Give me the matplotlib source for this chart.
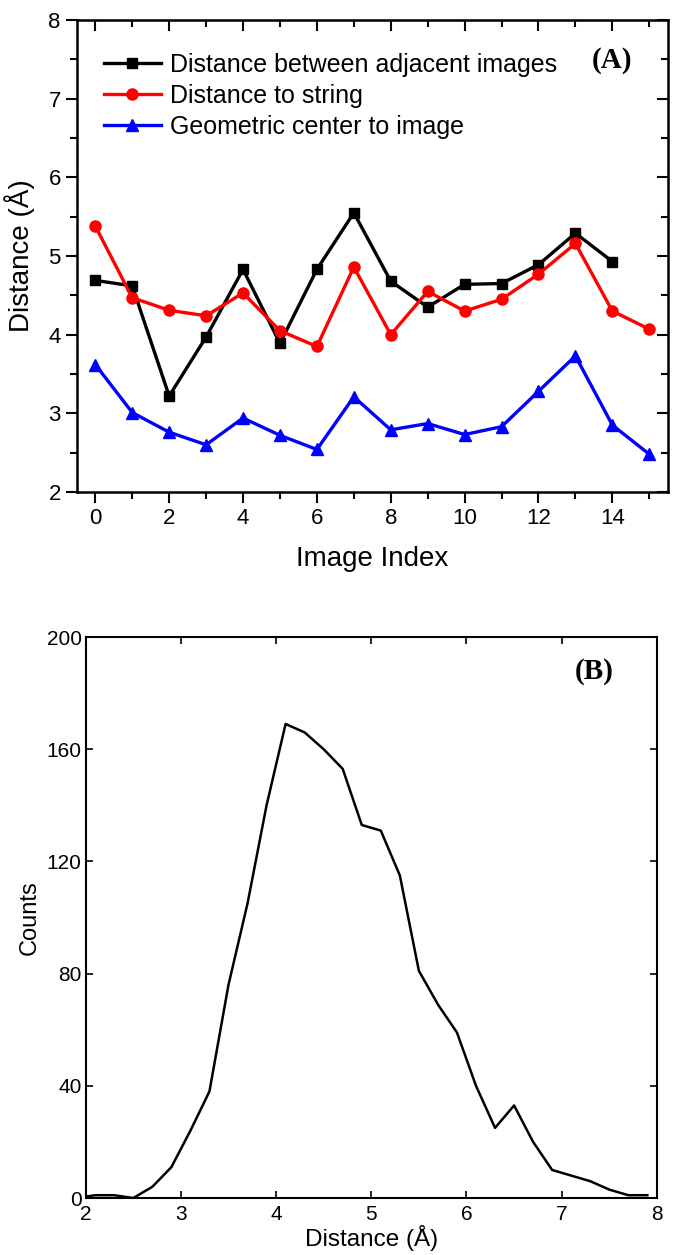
import matplotlib.pyplot as plt
plt.rcParams['font.family'] = ['Liberation Sans', 'DejaVu Sans']

# panel (A): distances along the string
idx_adj = list(range(15))
adj = [4.69, 4.62, 3.22, 3.97, 4.83, 3.89, 4.83, 5.55, 4.68, 4.35, 4.64, 4.65, 4.89, 5.29, 4.93]
idx = list(range(16))
to_string = [5.38, 4.47, 4.31, 4.24, 4.53, 4.05, 3.85, 4.86, 4.00, 4.55, 4.30, 4.45, 4.77, 5.16, 4.30, 4.07]
center = [3.62, 3.01, 2.76, 2.60, 2.94, 2.72, 2.54, 3.21, 2.79, 2.87, 2.73, 2.83, 3.28, 3.73, 2.85, 2.48]

# panel (B): distance histogram
dist = [1.9, 2.1, 2.3, 2.5, 2.7, 2.9, 3.1, 3.3, 3.5, 3.7, 3.9, 4.1, 4.3, 4.5, 4.7, 4.9,
        5.1, 5.3, 5.5, 5.7, 5.9, 6.1, 6.3, 6.5, 6.7, 6.9, 7.1, 7.3, 7.5, 7.7, 7.9]
counts = [0, 1, 1, 0, 4, 11, 24, 38, 76, 105, 140, 169, 166, 160, 153, 133,
          131, 115, 81, 69, 59, 40, 25, 33, 20, 10, 8, 6, 3, 1, 1]

fig = plt.figure(figsize=(6.8, 12.55), dpi=100)

# ---- (A)
ax1 = fig.add_axes([0.113, 0.608, 0.869, 0.376])
ax1.plot(idx_adj, adj, color='black', marker='s', markersize=7, linewidth=2.4,
         label='Distance between adjacent images')
ax1.plot(idx, to_string, color='red', marker='o', markersize=8, linewidth=2.4,
         label='Distance to string')
ax1.plot(idx, center, color='blue', marker='^', markersize=8, linewidth=2.4,
         label='Geometric center to image')
ax1.set_xlim(-0.5, 15.5)
ax1.set_ylim(2, 8)
ax1.set_xticks(range(0, 16, 2))
ax1.set_xticks(range(1, 16, 2), minor=True)
ax1.set_yticks(range(2, 9))
ax1.set_yticks([2.5, 3.5, 4.5, 5.5, 6.5, 7.5], minor=True)
ax1.tick_params(which='both', direction='out', width=1.5, labelsize=16)
ax1.tick_params(which='major', length=8)
ax1.tick_params(which='minor', length=5)
ax1.tick_params(which='both', top=False, right=False)
for s in ax1.spines.values():
    s.set_linewidth(1.8)
# mirror ticks pointing inward on top and right
sec_x = ax1.secondary_xaxis('top')
sec_x.set_xticks(range(0, 16, 2))
sec_x.set_xticks(range(1, 16, 2), minor=True)
sec_x.tick_params(which='both', direction='in', width=1.5, labeltop=False)
sec_x.tick_params(which='major', length=8)
sec_x.tick_params(which='minor', length=5)
sec_y = ax1.secondary_yaxis('right')
sec_y.set_yticks(range(2, 9))
sec_y.set_yticks([2.5, 3.5, 4.5, 5.5, 6.5, 7.5], minor=True)
sec_y.tick_params(which='both', direction='in', width=1.5, labelright=False)
sec_y.tick_params(which='major', length=8)
sec_y.tick_params(which='minor', length=5)
ax1.set_xlabel('Image Index', fontsize=20, labelpad=12)
ax1.set_ylabel('Distance (Å)', fontsize=20, labelpad=10)
ax1.legend(loc='upper left', bbox_to_anchor=(0.02, 0.962), frameon=False, fontsize=18,
           handlelength=2.3, handletextpad=0.35, labelspacing=0.28, borderaxespad=0.2)
ax1.text(0.905, 0.915, '(A)', transform=ax1.transAxes, ha='center', va='center',
         fontsize=21, fontweight='bold', family='Liberation Serif')

# ---- (B)
ax2 = fig.add_axes([0.126, 0.0454, 0.840, 0.447])
ax2.plot(dist, counts, color='black', linewidth=1.8)
ax2.set_xlim(2, 8)
ax2.set_ylim(0, 200)
ax2.set_xticks(range(2, 9))
ax2.set_yticks(range(0, 201, 40))
ax2.tick_params(direction='in', length=5, width=1.2, labelsize=15, top=True, right=True)
ax2.tick_params(axis='x', pad=5)
ax2.tick_params(axis='y', pad=3)
for s in ax2.spines.values():
    s.set_linewidth(1.5)
ax2.set_xlabel('Distance (Å)', fontsize=17.5, labelpad=1)
ax2.set_ylabel('Counts', fontsize=17, labelpad=4)
ax2.text(0.89, 0.938, '(B)', transform=ax2.transAxes, ha='center', va='center',
         fontsize=21, fontweight='bold', family='Liberation Serif')

fig.savefig('out.png', dpi=100)
